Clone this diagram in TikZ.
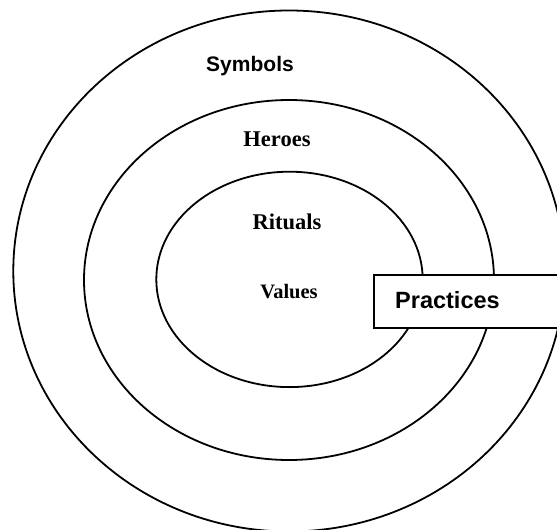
\documentclass[tikz,border=0pt]{standalone}
\usepackage{fontspec}
\setmainfont{Liberation Serif}
\newfontfamily\arialfont{Liberation Sans}
\begin{document}
\begin{tikzpicture}[x=1pt,y=-1pt,
  ring/.style={line width=1.8pt},
  lbl/.style={font=\fontsize{22.5}{24}\selectfont\bfseries, anchor=base, inner sep=0pt},
  boxstyle/.style={draw, line width=1.8pt, fill=white, anchor=north west, minimum width=200pt, minimum height=53pt, inner sep=0pt}
]
\useasboundingbox (0,0) rectangle (557,530);
\clip (0,0) rectangle (557,530);
\coordinate (co) at (289,271);
\coordinate (cm) at (289,280);
\coordinate (ci) at (289.5,279.4);
\draw[ring] (co) ellipse [x radius=275.7, y radius=260.5];
\draw[ring] (cm) ellipse [x radius=205, y radius=180];
\draw[ring] (ci) ellipse [x radius=133.2, y radius=107.7];
\node[lbl, font=\arialfont\fontsize{21}{24}\selectfont\bfseries] (sym) at (250,71.5) {Symbols};
\node[lbl] (her) at (277,146.5) {Heroes};
\node[lbl] (rit) at (287,229) {Rituals};
\node[lbl, font=\fontsize{20.5}{24}\selectfont\bfseries] (val) at (289,298) {Values};
\node[boxstyle] (box) at (373,274) {};
\node[anchor=base west, inner sep=0pt, font=\arialfont\fontsize{23.5}{26}\selectfont\bfseries] (prac) at (395,308) {Practices};
\end{tikzpicture}
\end{document}
